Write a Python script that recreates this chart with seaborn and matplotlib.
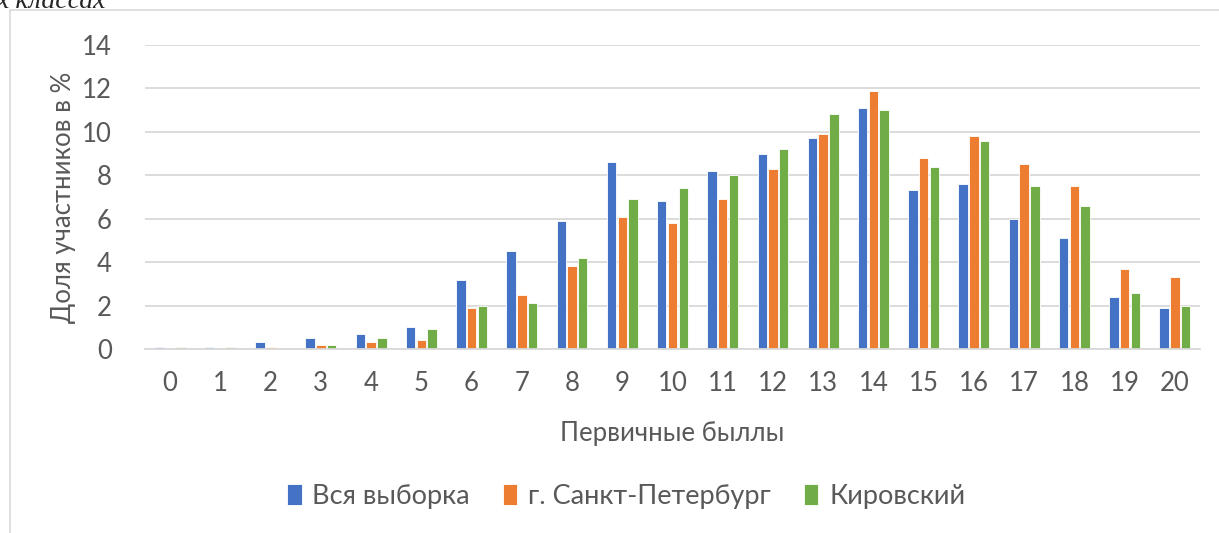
import pandas as pd
import numpy as np
import matplotlib.pyplot as plt
import seaborn as sns
from matplotlib.patches import Rectangle

# данные с диаграммы
scores = [str(i) for i in range(21)]
all_sample = [0.1, 0.1, 0.3, 0.5, 0.7, 1.0, 3.2, 4.5, 5.9, 8.6, 6.8, 8.2, 9.0, 9.7, 11.1, 7.3, 7.6, 6.0, 5.1, 2.4, 1.9]
spb = [0.0, 0.0, 0.1, 0.2, 0.3, 0.4, 1.9, 2.5, 3.8, 6.1, 5.8, 6.9, 8.3, 9.9, 11.9, 8.8, 9.8, 8.5, 7.5, 3.7, 3.3]
kirov = [0.1, 0.1, 0.0, 0.2, 0.5, 0.9, 2.0, 2.1, 4.2, 6.9, 7.4, 8.0, 9.2, 10.8, 11.0, 8.4, 9.6, 7.5, 6.6, 2.6, 2.0]
series = ['Вся выборка', 'г. Санкт-Петербург', 'Кировский']
colors = ['#4472C4', '#ED7D31', '#70AD47']

df = pd.DataFrame({'score': scores * 3,
                   'value': all_sample + spb + kirov,
                   'series': np.repeat(series, len(scores))})

sns.set_style('white')
plt.rcParams['font.family'] = ['Lato', 'DejaVu Sans']
text_col = '#595959'

fig = plt.figure(figsize=(12.19, 5.33), dpi=100)
ax = fig.add_axes([145/1219, 1 - 349/533, (1200-145)/1219, (349-45)/533])

sns.barplot(data=df, x='score', y='value', hue='series', palette=colors, saturation=1,
            width=0.64, gap=0.12, edgecolor='white', linewidth=0.6, ax=ax)

ax.set_ylim(0, 14)
ax.set_yticks(range(0, 15, 2))
ax.yaxis.grid(True, color='#D9D9D9', linewidth=1.3)
ax.set_axisbelow(True)
for s in ['top', 'right', 'left']:
    ax.spines[s].set_visible(False)
ax.spines['bottom'].set_color('#D9D9D9')
ax.spines['bottom'].set_linewidth(1.3)
ax.tick_params(axis='both', length=0, labelsize=18.5, colors=text_col)
ax.tick_params(axis='x', pad=16)
ax.tick_params(axis='y', pad=24)
ax.set_xlabel('Первичные быллы', fontsize=18.5, color=text_col, labelpad=18)
ax.set_ylabel('Доля участников в %', fontsize=18.5, color=text_col, labelpad=4)

ax.legend(loc='center', bbox_to_anchor=(0.456, -0.485), ncol=3, frameon=False,
          fontsize=19.5, labelcolor=text_col, handlelength=0.55, handleheight=0.8,
          handletextpad=0.4, columnspacing=1.2)

# рамка области диаграммы и обрезанная подпись сверху
fig.patches.append(Rectangle((10/1219, -0.1), 1.2, 1 - 10/533 + 0.1, transform=fig.transFigure,
                             fill=False, edgecolor='#D9D9D9', linewidth=1.2))
fig.text(-0.003, 1 - 2/533, 'х классах', fontsize=20, style='italic',
         family='Liberation Serif', va='center', ha='left')

fig.savefig('out.png', dpi=100)
